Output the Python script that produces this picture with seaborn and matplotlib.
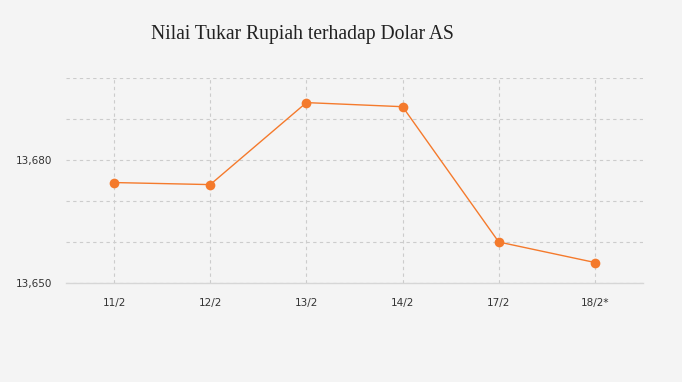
import matplotlib
matplotlib.use("Agg")
import matplotlib.pyplot as plt
import seaborn as sns
import pandas as pd
from matplotlib.ticker import FuncFormatter, MultipleLocator

# data
dates = ["11/2", "12/2", "13/2", "14/2", "17/2", "18/2*"]
kurs = [13674.5, 13674.0, 13694.0, 13693.0, 13660.0, 13655.0]

df = pd.DataFrame({"tanggal": dates, "kurs": kurs})

sns.set_style("whitegrid")
bg = "#f4f4f4"
orange = "#f47a2c"

fig = plt.figure(figsize=(6.82, 3.82), dpi=100, facecolor=bg)
ax = fig.add_axes([66 / 682, 1 - 283 / 382, (643 - 66) / 682, (283 - 78) / 382])
ax.set_facecolor(bg)

sns.lineplot(data=df, x="tanggal", y="kurs", ax=ax, color=orange, linewidth=1,
             marker="o", markersize=7, markeredgewidth=0, sort=False)

ax.set_xlim(-0.5, len(dates) - 0.5)
ax.set_ylim(13650, 13700)
ax.yaxis.set_major_locator(MultipleLocator(30))
ax.yaxis.set_minor_locator(MultipleLocator(10))
ax.yaxis.set_major_formatter(FuncFormatter(lambda v, p: f"{v:,.0f}"))

ax.grid(True, which="both", axis="both", color="#cccccc", linestyle=(0, (3, 3)), linewidth=0.8)
ax.tick_params(axis="both", which="both", length=0, labelsize=7.5, colors="#333333")
ax.tick_params(axis="x", pad=11)
ax.tick_params(axis="y", pad=10)
ax.set_xlabel("")
ax.set_ylabel("")
for side in ["top", "right", "left"]:
    ax.spines[side].set_visible(False)
ax.spines["bottom"].set_color("#d6d6d6")
ax.spines["bottom"].set_linewidth(1)

fig.text(302 / 682, 1 - 35 / 382, "Nilai Tukar Rupiah terhadap Dolar AS",
         ha="center", va="center", fontsize=14.1, family="Liberation Serif", color="#222222")

fig.savefig("out.png", dpi=100, facecolor=bg)
